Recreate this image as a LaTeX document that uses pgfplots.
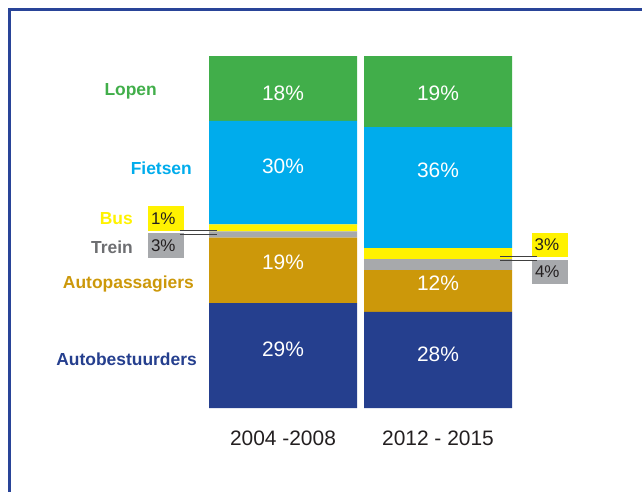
\documentclass[border=0pt]{standalone}
\usepackage{pgfplots}
\usepackage{pgfplotstable}
\pgfplotsset{compat=1.18}
\usepackage{fontspec}
\setmainfont{Liberation Sans}

\definecolor{cgreen}{RGB}{65,174,74}
\definecolor{ccyan}{RGB}{0,172,236}
\definecolor{cyellow}{RGB}{255,242,0}
\definecolor{cgray}{RGB}{167,169,172}
\definecolor{cgold}{RGB}{204,152,10}
\definecolor{cnavy}{RGB}{37,63,142}
\definecolor{ctrein}{RGB}{109,110,113}
\definecolor{cframe}{RGB}{41,68,152}
\definecolor{ctext}{RGB}{35,31,32}

% share of the bar height (y), printed label (lab), label offsets in bp
\pgfplotstableread{
x y    lab dx off
0 29.8 29  0  -6
1 27.3 28  0  -5.8
}\autob
\pgfplotstableread{
x y    lab dx off
0 18.6 19  0  -8.5
1 11.9 12  0  -7.5
}\autop
\pgfplotstableread{
x y   lab dx   off
0 1.8 3   -117 11
1 3.1 4   112  7.5
}\trein
\pgfplotstableread{
x y   lab dx     off
0 2.0 1   -117   -9.5
1 3.1 3   111.7  -8.5
}\bus
\pgfplotstableread{
x y    lab dx off
0 29.4 30  0  -6.4
1 34.4 36  0  -17.5
}\fiets
\pgfplotstableread{
x y    lab dx off
0 18.4 18  0  4.5
1 20.2 19  0  1.5
}\lopen

\pgfplotsset{
  seglabel/.style={
    point meta=explicit symbolic,
    visualization depends on={\thisrow{dx} \as \dx},
    visualization depends on={\thisrow{off} \as \off},
    nodes near coords={\pgfplotspointmeta\%},
    every node near coord/.append style={anchor=center, xshift=\dx bp, yshift=-\off bp, #1},
  },
  inlabel/.style={seglabel={text=white, font=\fontsize{21}{24}\selectfont}},
  boxlabel/.style={seglabel={fill=#1, text=ctext, font=\fontsize{17}{20}\selectfont,
    inner xsep=3bp, inner ysep=0pt, text width=30bp, align=left, minimum height=24.5bp}},
}

\begin{document}
\begin{tikzpicture}
\path[use as bounding box] (0,0) rectangle (642bp,-492bp);
\draw[cframe, line width=3bp] (9.5bp,-492bp) -- (9.5bp,-9.5bp) -- (642bp,-9.5bp);
\begin{axis}[
    at={(205.5bp,-408bp)}, anchor=south west,
    scale only axis, width=310bp, height=352bp,
    ybar stacked, bar width=148bp,
    xmin=-0.5, xmax=1.5, ymin=0, ymax=100,
    clip=false,
    axis line style={draw=none}, major tick length=0pt,
    xtick={0,1},
    xticklabels={2004 -2008, 2012 - 2015},
    xticklabel style={anchor=center, yshift=-30bp, text=ctext,
        font=\fontsize{21}{24}\selectfont},
    ytick={13.75,35.6,45.7,53.75,68.1,90.4},
    yticklabels={
        \textcolor{cnavy}{Autobestuurders}\kern8.5bp,
        \textcolor{cgold}{Autopassagiers}\kern11.5bp,
        \textcolor{ctrein}{Trein}\kern72.5bp,
        \textcolor{cyellow}{Bus}\kern72.5bp,
        \textcolor{ccyan}{Fietsen}\kern13.5bp,
        \textcolor{cgreen}{Lopen}\kern48.5bp},
    yticklabel style={anchor=base east, inner sep=0pt, yshift=-6bp,
        font=\bfseries\fontsize{17.5}{20}\selectfont},
    every axis plot/.append style={draw=none},
]
\addplot[fill=cnavy, inlabel] table[x=x, y=y, meta=lab] {\autob};
\addplot[fill=cgold, inlabel] table[x=x, y=y, meta=lab] {\autop};
\addplot[fill=cgray, boxlabel=cgray] table[x=x, y=y, meta=lab] {\trein};
\addplot[fill=cyellow, boxlabel=cyellow] table[x=x, y=y, meta=lab] {\bus};
\addplot[fill=ccyan, inlabel] table[x=x, y=y, meta=lab] {\fiets};
\addplot[fill=cgreen, inlabel] table[x=x, y=y, meta=lab] {\lopen};
\end{axis}
\draw[black!75, line width=0.8bp] (180bp,-230bp) -- (217bp,-230bp)
    (180bp,-234bp) -- (217bp,-234bp);
\draw[black!75, line width=0.8bp] (500bp,-256bp) -- (537bp,-256bp)
    (500bp,-260.5bp) -- (537bp,-260.5bp);
\end{tikzpicture}
\end{document}
